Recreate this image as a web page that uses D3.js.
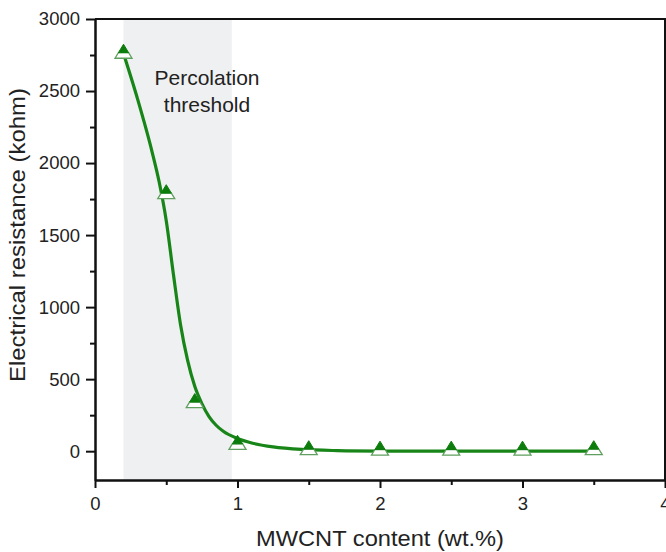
<!DOCTYPE html>
<html>
<head>
<meta charset="utf-8">
<script src="https://cdnjs.cloudflare.com/ajax/libs/d3/7.8.5/d3.min.js"></script>
<style>
  html, body { margin: 0; padding: 0; background: #fff; }
  svg { display: block; font-family: "Liberation Sans", Arial, sans-serif; }
</style>
</head>
<body>
<svg id="chart" width="666" height="552"></svg>
<script>
// measured points
var contentX = [0.2, 0.5, 0.7, 1.0, 1.5, 2.0, 2.5, 3.0, 3.5];
var resistance = [2760, 1785, 335, 45, 8, 5, 5, 5, 8];

// fitted curve
var fitX = [0.2, 0.3, 0.4, 0.45, 0.5, 0.55, 0.6, 0.65, 0.7, 0.75, 0.8, 0.85, 0.9, 1.0, 1.1, 1.25, 1.45, 1.7, 2.0, 2.5, 3.0, 3.5];
var fitY = [2760, 2440, 2080, 1870, 1600, 1230, 880, 630, 450, 330, 240, 180, 138, 88, 57, 30, 12, 4, 1, 0, 0, 0];

var shadeRange = [0.2, 0.96];

var xTicks = [0, 1, 2, 3, 4];
var xMinor = [0.5, 1.5, 2.5, 3.5];
var yTicks = [0, 500, 1000, 1500, 2000, 2500, 3000];
var yMinor = [250, 750, 1250, 1750, 2250, 2750];

var green = '#178517';

var svg = d3.select('#chart');
var x = d3.scaleLinear().domain([0, 4]).range([95, 665]);
var y = d3.scaleLinear().domain([-200, 3000]).range([480, 19]);

// percolation band
svg.append('rect')
	.attr('x', x(shadeRange[0]))
	.attr('y', y(3000))
	.attr('width', x(shadeRange[1]) - x(shadeRange[0]))
	.attr('height', y(-200) - y(3000))
	.attr('fill', '#eff0f1');

svg.append('text')
	.attr('x', 207).attr('y', 85)
	.attr('text-anchor', 'middle')
	.attr('font-size', '21px')
	.attr('fill', '#222')
	.text('Percolation');
svg.append('text')
	.attr('x', 207).attr('y', 112)
	.attr('text-anchor', 'middle')
	.attr('font-size', '21px')
	.attr('fill', '#222')
	.text('threshold');

// frame (top + right)
svg.append('path')
	.attr('d', 'M' + x(0) + ',' + y(3000) + 'H' + x(4) + 'V' + y(-200))
	.attr('fill', 'none')
	.attr('stroke', '#111')
	.attr('stroke-width', 2);

// axes
function styleAxis(g) {
	g.select('.domain').attr('stroke', '#111').attr('stroke-width', 2);
	g.selectAll('.tick line').attr('stroke', '#111').attr('stroke-width', 2);
	g.selectAll('.tick text').attr('font-size', '18.5px').attr('fill', '#222').attr('font-family', '"Liberation Sans", Arial, sans-serif');
}

var gx = svg.append('g').attr('transform', 'translate(0,' + y(-200) + ')')
	.call(d3.axisBottom(x).tickValues(xTicks).tickFormat(d3.format('d')).tickSize(8).tickSizeOuter(0).tickPadding(9));
styleAxis(gx);
var gxm = svg.append('g').attr('transform', 'translate(0,' + y(-200) + ')')
	.call(d3.axisBottom(x).tickValues(xMinor).tickFormat('').tickSize(5).tickSizeOuter(0));
styleAxis(gxm);

var gy = svg.append('g').attr('transform', 'translate(' + x(0) + ',0)')
	.call(d3.axisLeft(y).tickValues(yTicks).tickFormat(d3.format('d')).tickSize(9).tickSizeOuter(0).tickPadding(6));
styleAxis(gy);
var gym = svg.append('g').attr('transform', 'translate(' + x(0) + ',0)')
	.call(d3.axisLeft(y).tickValues(yMinor).tickFormat('').tickSize(5).tickSizeOuter(0));
styleAxis(gym);

// axis titles
svg.append('text')
	.attr('x', (x(0) + x(4)) / 2).attr('y', 546)
	.attr('text-anchor', 'middle')
	.attr('font-size', '22px')
	.attr('fill', '#222')
	.attr('textLength', 248)
	.attr('lengthAdjust', 'spacingAndGlyphs')
	.text('MWCNT content (wt.%)');

svg.append('text')
	.attr('transform', 'translate(25,235) rotate(-90)')
	.attr('text-anchor', 'middle')
	.attr('font-size', '22px')
	.attr('fill', '#222')
	.attr('textLength', 294)
	.attr('lengthAdjust', 'spacingAndGlyphs')
	.text('Electrical resistance (kohm)');

// fitted curve
var fitData = fitX.map(function(d, i) { return [d, fitY[i]]; });
svg.append('path')
	.datum(fitData)
	.attr('fill', 'none')
	.attr('stroke', green)
	.attr('stroke-width', 3.2)
	.attr('d', d3.line()
		.x(function(d) { return x(d[0]); })
		.y(function(d) { return y(d[1]); })
		.curve(d3.curveMonotoneX));

// half-filled up triangles, anchored on centroid
var triW = 17, triH = 14, split = 0.6;
var pts = contentX.map(function(d, i) { return { x: d, y: resistance[i] }; });
var marks = svg.append('g').selectAll('g').data(pts).join('g')
	.attr('transform', function(d) { return 'translate(' + x(d.x) + ',' + y(d.y) + ')'; });

var apexY = -triH * 2 / 3, baseY = triH / 3, midY = apexY + triH * split;
var halfAt = function(yy) { return (triW / 2) * (yy - apexY) / triH; };

marks.append('path')
	.attr('d', 'M' + (-halfAt(midY)) + ',' + midY + 'L' + halfAt(midY) + ',' + midY +
		'L' + (triW / 2) + ',' + baseY + 'L' + (-triW / 2) + ',' + baseY + 'Z')
	.attr('fill', '#fff')
	.attr('stroke', '#5f9f5f')
	.attr('stroke-width', 1.3);
marks.append('path')
	.attr('d', 'M0,' + apexY + 'L' + halfAt(midY) + ',' + midY + 'L' + (-halfAt(midY)) + ',' + midY + 'Z')
	.attr('fill', '#0c7d0c')
	.attr('stroke', '#0c7d0c')
	.attr('stroke-width', 1);
</script>
</body>
</html>
